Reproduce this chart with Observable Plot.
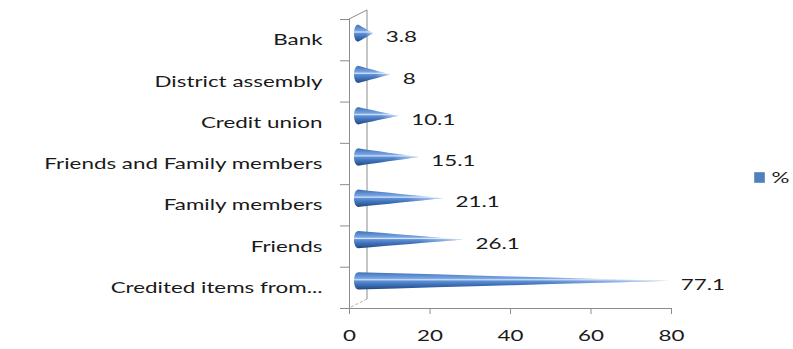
<!DOCTYPE html>
<html>
<head>
<meta charset="utf-8">
<script src="https://cdn.jsdelivr.net/npm/d3@7"></script>
<script src="https://cdn.jsdelivr.net/npm/@observablehq/plot@0.6"></script>
<style>
  html, body { margin: 0; padding: 0; background: #fff; }
  #chart svg { display: block; }
</style>
</head>
<body>
<div id="chart"></div>
<script>
// Sources of credit, share of respondents (%), listed top to bottom
const categories = [
  "Bank",
  "District assembly",
  "Credit union",
  "Friends and Family members",
  "Family members",
  "Friends",
  "Credited items from..."
];
const percents = [3.8, 8, 10.1, 15.1, 21.1, 26.1, 77.1];
const xTicks = [0, 20, 40, 60, 80];
const seriesName = "%";

// Look of the 3-D cones and frame
const axisGray = "#8c8c8c";
const seriesBlue = "#4f81bd";
const coneHalf = 0.21;    // half height of a cone, in category rows
const coneBulge = 1.0;    // half width of the cone's elliptical base, in x units
const depthX = 18, depthY = 9;          // depth of the 3-D box, px
const coneDx = depthX / 2, coneDy = -6.5; // cones sit mid-depth
const textStretch = 1.4;

const rows = categories.map((name, i) => ({name, i, value: percents[i]}));
const bounds = d3.range(-0.5, categories.length, 1);

// Outline of each cone: elliptical base on the left, apex at the value
const steps = d3.range(-8, 9).map(s => s / 8);
const outline = rows.flatMap(r => steps.map(t => ({
  name: r.name,
  y: r.i + t * coneHalf,
  x1: -coneBulge * Math.sqrt(1 - t * t),
  x2: r.value * (1 - Math.abs(t))
})));

// Receding edges of the box (top edge, back wall, floor edge)
function frame3d(index, scales) {
  const x0 = scales.x(0);
  const yTop = scales.y(-0.5);
  const yBot = scales.y(categories.length - 0.5);
  const g = d3.create("svg:g").attr("fill", "none").attr("stroke", axisGray);
  g.append("line")
    .attr("x1", x0).attr("y1", yTop)
    .attr("x2", x0 + depthX).attr("y2", yTop - depthY);
  g.append("line")
    .attr("x1", x0 + depthX).attr("y1", yTop - depthY)
    .attr("x2", x0 + depthX).attr("y2", yBot - depthY);
  g.append("line")
    .attr("stroke", "#b0b0b0")
    .attr("stroke-dasharray", "3,2")
    .attr("x1", x0 + depthX).attr("y1", yBot - depthY)
    .attr("x2", x0).attr("y2", yBot);
  return g.node();
}

const chart = Plot.plot({
  width: 793,
  height: 349,
  marginLeft: 349,
  marginRight: 122,
  marginTop: 19,
  marginBottom: 41,
  style: {fontFamily: "Lato, 'DejaVu Sans', sans-serif", fontSize: "16px", color: "#1a1a1a", background: "#fff"},
  x: {domain: [0, 80], label: null},
  y: {domain: [-0.5, categories.length - 0.5], reverse: true, label: null},
  marks: [
    frame3d,
    // front axes
    Plot.ruleX([0], {y1: -0.5, y2: categories.length - 0.5, stroke: axisGray}),
    Plot.ruleY([categories.length - 0.5], {x1: 0, x2: 80, stroke: axisGray}),
    Plot.axisY(bounds, {tickSize: 9, tickFormat: () => "", stroke: axisGray, label: null}),
    Plot.axisY(rows.map(r => r.i), {
      tickSize: 0, tickPadding: 27, fontSize: 16,
      tickFormat: i => categories[i], label: null
    }),
    Plot.axisX(xTicks, {tickSize: 6, tickPadding: 15, fontSize: 16, stroke: axisGray, label: null}),
    // cones
    Plot.areaX(outline, {
      y: "y", x1: "x1", x2: "x2", z: "name",
      fill: "url(#coneShade)", dx: coneDx, dy: coneDy
    }),
    Plot.areaX(outline, {
      y: "y", x1: "x1", x2: "x2", z: "name",
      fill: "url(#coneFade)", dx: coneDx, dy: coneDy
    }),
    // value labels
    Plot.text(rows, {
      x: "value", y: "i", text: r => String(r.value),
      textAnchor: "start", dx: coneDx + 12, dy: -3, fontSize: 16, fill: "#1a1a1a"
    }),
    // legend
    Plot.dot([seriesName], {
      frameAnchor: "right", dx: 88, dy: 13.5,
      symbol: "square", r: 6, fill: seriesBlue
    }),
    Plot.text([seriesName], {
      frameAnchor: "right", dx: 100, dy: 13.5,
      text: d => d, textAnchor: "start", fontSize: 16, fill: "#1a1a1a"
    })
  ]
});

// Gradients for the cone shading
const defs = d3.select(chart).insert("defs", ":first-child");
const shade = defs.append("linearGradient")
  .attr("id", "coneShade").attr("x1", 0).attr("y1", 0).attr("x2", 0).attr("y2", 1);
[
  [0, "#3f6fb2"], [0.18, "#5a8ad0"], [0.36, "#79a5e2"], [0.44, "#d6e5f8"],
  [0.5, "#6193d9"], [0.72, "#3f70b7"], [0.9, "#2d5898"], [1, "#1f3f70"]
].forEach(([o, c]) => shade.append("stop").attr("offset", o).attr("stop-color", c));
const fade = defs.append("linearGradient")
  .attr("id", "coneFade").attr("x1", 0).attr("y1", 0).attr("x2", 1).attr("y2", 0);
[
  [0, 0], [0.6, 0], [0.85, 0.35], [1, 0.85]
].forEach(([o, a]) => fade.append("stop").attr("offset", o)
  .attr("stop-color", "#fff").attr("stop-opacity", a));

// Wide lettering, stretched about each label's anchor point
chart.querySelectorAll("text").forEach(t => {
  const x = +t.getAttribute("x") || 0;
  const tr = t.getAttribute("transform") || "";
  t.setAttribute("transform", `${tr} translate(${x},0) scale(${textStretch},1) translate(${-x},0)`);
});

document.getElementById("chart").appendChild(chart);
</script>
</body>
</html>
